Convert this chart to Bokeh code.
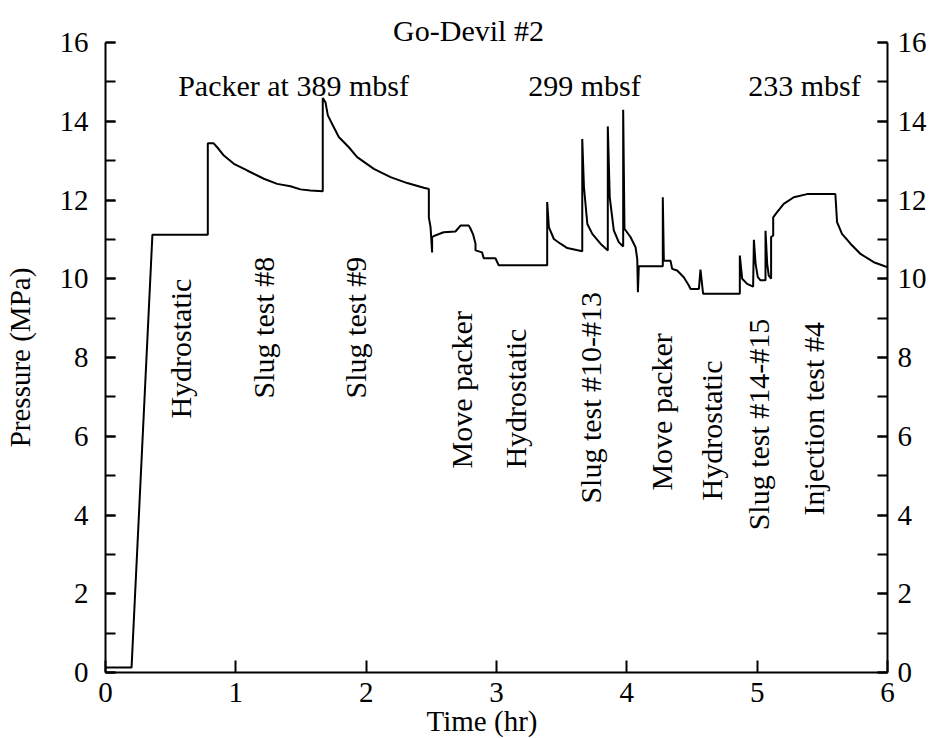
from math import pi
from bokeh.plotting import figure
from bokeh.models import LinearAxis, SingleIntervalTicker, Range1d
from bokeh.core.properties import value
from bokeh.embed import file_html
from bokeh.resources import INLINE

# ---- data ----
time_hr = [0.00, 0.20, 0.36, 0.785, 0.785, 0.83, 0.857, 0.908, 0.985, 1.087, 1.215, 1.317, 1.419,
           1.496, 1.573, 1.667, 1.667, 1.688, 1.706, 1.739, 1.790, 1.867, 1.931, 2.059, 2.187,
           2.315, 2.442, 2.481, 2.481, 2.494, 2.506, 2.506, 2.53, 2.594, 2.685, 2.724, 2.788,
           2.801, 2.821, 2.839, 2.839, 2.889, 2.902, 2.992, 3.017, 3.389, 3.389, 3.402, 3.440,
           3.491, 3.543, 3.658, 3.658, 3.671, 3.697, 3.735, 3.798, 3.854, 3.854, 3.869, 3.900,
           3.938, 3.972, 3.972, 3.982, 4.028, 4.067, 4.080, 4.085, 4.092, 4.276, 4.276, 4.284,
           4.335, 4.348, 4.386, 4.437, 4.476, 4.489, 4.553, 4.565, 4.585, 4.867, 4.867, 4.885,
           4.923, 4.969, 4.975, 4.988, 5.005, 5.026, 5.064, 5.064, 5.077, 5.089, 5.107, 5.107,
           5.123, 5.123, 5.153, 5.204, 5.281, 5.383, 5.600, 5.613, 5.651, 5.716, 5.793, 5.895,
           5.985, 6.00]
pressure_mpa = [0.13, 0.13, 11.12, 11.12, 13.44, 13.44, 13.34, 13.13, 12.92, 12.75, 12.54, 12.41, 12.35,
                12.27, 12.24, 12.22, 14.59, 14.48, 14.15, 13.93, 13.60, 13.34, 13.09, 12.79, 12.58,
                12.43, 12.31, 12.28, 11.56, 11.31, 10.67, 11.06, 11.10, 11.18, 11.20, 11.35, 11.35,
                11.27, 11.12, 10.89, 10.72, 10.67, 10.52, 10.52, 10.34, 10.34, 11.95, 11.31, 11.01,
                10.89, 10.78, 10.70, 13.55, 12.33, 11.39, 11.14, 10.89, 10.72, 13.87, 12.07, 11.23,
                10.93, 10.82, 14.29, 11.27, 11.06, 10.80, 10.50, 9.66, 10.32, 10.32, 12.07, 10.46,
                10.46, 10.25, 10.21, 10.04, 9.83, 9.74, 9.74, 10.23, 9.62, 9.62, 10.59, 10.00,
                9.87, 9.80, 10.99, 10.38, 10.04, 9.96, 9.96, 11.22, 10.38, 10.08, 10.00, 11.06,
                11.10, 11.56, 11.69, 11.90, 12.07, 12.15, 12.15, 11.44, 11.14, 10.89, 10.63, 10.42,
                10.31, 10.30]

phase_labels = ["Hydrostatic", "Slug test #8", "Slug test #9", "Move packer", "Hydrostatic",
                "Slug test #10-#13", "Move packer", "Hydrostatic", "Slug test #14-#15",
                "Injection test #4"]
phase_label_x = [0.572, 1.209, 1.915, 2.729, 3.143, 3.718, 4.263, 4.647, 5.007, 5.429]
phase_label_y = [6.45, 6.96, 6.96, 5.18, 5.18, 4.29, 4.62, 4.37, 3.61, 3.99]

depth_labels = ["Packer at 389 mbsf", "299 mbsf", "233 mbsf"]
depth_label_x = [1.443, 3.675, 5.363]
depth_label_y = [14.91, 14.91, 14.91]

title_text = ["Go-Devil #2"]
title_x = [2.785]
title_y = [16.30]

x_label_text = "Time (hr)"
y_label_text = "Pressure (MPa)"

FONT = "Liberation Serif"
TICK_FS = "29px"
TEXT_FS = "30px"

# The frame covers the whole canvas; axes are pinned at the data edges (x=0, x=6, y=0),
# so x = 0..6 spans 105..887 px and y = 0..16 spans 672..42 px.
p = figure(width=929, height=738, x_range=Range1d(-0.8056, 6.3223), y_range=Range1d(-1.676, 17.067),
           output_backend="svg", toolbar_location=None,
           min_border_left=0, min_border_right=0, min_border_top=0, min_border_bottom=0)
p.xgrid.visible = False
p.ygrid.visible = False
p.outline_line_color = None
p.background_fill_color = "white"
p.border_fill_color = "white"


def style_axis(ax):
    ax.axis_line_width = 2
    ax.axis_line_color = "black"
    ax.major_tick_line_width = 2
    ax.minor_tick_line_width = 2
    ax.major_tick_line_color = "black"
    ax.minor_tick_line_color = "black"
    ax.major_tick_out = 0
    ax.minor_tick_out = 0
    ax.major_label_text_font = FONT
    ax.major_label_text_font_size = TICK_FS
    ax.major_label_text_color = "black"
    ax.axis_label_text_font = FONT
    ax.axis_label_text_font_size = TICK_FS
    ax.axis_label_text_font_style = "normal"
    ax.axis_label_text_color = "black"


xa = p.xaxis[0]
style_axis(xa)
xa.ticker = SingleIntervalTicker(interval=1, num_minor_ticks=0)
xa.bounds = (0, 6)
xa.fixed_location = 0
xa.major_tick_in = 12
xa.minor_tick_in = 0
xa.major_label_standoff = 10
xa.axis_label = x_label_text + "\u00a0" * 4
xa.axis_label_standoff = 0

ya = p.yaxis[0]
style_axis(ya)
ya.ticker = SingleIntervalTicker(interval=2, num_minor_ticks=2)
ya.bounds = (0, 16)
ya.fixed_location = 0
ya.major_tick_in = 10
ya.minor_tick_in = 10
ya.major_label_standoff = 17
ya.axis_label = y_label_text
ya.axis_label_standoff = 21

yr = LinearAxis()
style_axis(yr)
yr.ticker = SingleIntervalTicker(interval=2, num_minor_ticks=2)
yr.bounds = (0, 16)
yr.fixed_location = 6
yr.major_tick_in = 10
yr.minor_tick_in = 10
yr.major_label_standoff = 10
p.add_layout(yr, "right")

p.line(time_hr, pressure_mpa, line_width=2, color="black")

p.text(x=phase_label_x, y=phase_label_y, text=phase_labels, angle=pi / 2,
       text_font=value(FONT), text_font_size=TEXT_FS, text_align="left",
       text_baseline="alphabetic", text_color="black")
p.text(x=depth_label_x, y=depth_label_y, text=depth_labels,
       text_font=value(FONT), text_font_size=TEXT_FS, text_align="center",
       text_baseline="alphabetic", text_color="black")
p.text(x=title_x, y=title_y, text=title_text,
       text_font=value(FONT), text_font_size=TEXT_FS, text_align="center",
       text_baseline="alphabetic", text_color="black")

open("out.html", "w").write(file_html(p, INLINE))
